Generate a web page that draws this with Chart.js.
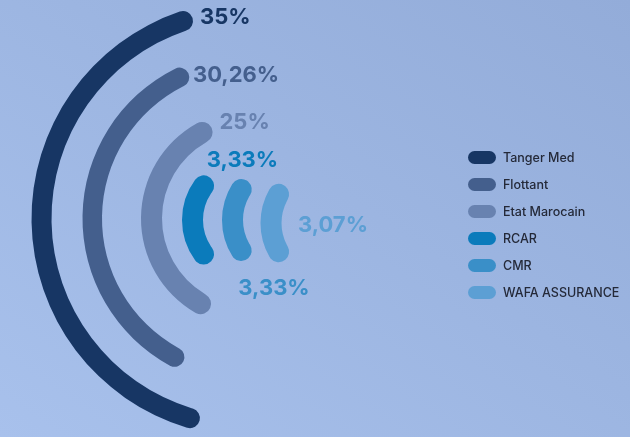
<!DOCTYPE html>
<html>
<head>
<meta charset="utf-8">
<script src="https://cdn.jsdelivr.net/npm/chart.js@4.4.1/dist/chart.umd.min.js"></script>
<style>
  html, body { margin: 0; padding: 0; }
  #stage {
    position: relative; width: 630px; height: 437px; overflow: hidden;
    background: linear-gradient(215deg, #93acd9 0%, #9cb5e1 45%, #a8c1ec 100%);
    font-family: Inter, "Noto Sans", sans-serif;
  }
  #stage canvas { position: absolute; left: 0; top: 0; }
  #legend { position: absolute; left: 468px; top: 143.5px; margin: 0; padding: 0; list-style: none; }
  #legend li { display: flex; align-items: center; height: 27px; font-size: 12.5px; font-weight: 500; color: #242938; }
  #legend li span { display: inline-block; width: 28px; height: 13px; border-radius: 7px; margin-right: 7px; }
</style>
</head>
<body>
<div id="stage"><ul id="legend"></ul></div>
<script>
// données du graphique
const categories = ['Tanger Med', 'Flottant', 'Etat Marocain', 'RCAR', 'CMR', 'WAFA ASSURANCE'];
const shares = [35, 30.26, 25, 3.33, 3.33, 3.07];

// style de chaque arc
const colors = ['#173664', '#445f8d', '#6882b0', '#0b7bbb', '#3a8fc8', '#5c9fd4'];
const centers = [[250, 218.5], [250, 218.5], [250, 218.5], [250.5, 220], [290.5, 220], [329, 223]];
const radii = [[218.5, 198.5], [167.5, 148], [109, 88], [68.5, 47.5], [68.5, 47.5], [68.5, 47.5]];
const sweepStart = [194, 205, 204, 223.6, 227.8, 230];
const sweepAngle = [150, 132, 133, 92.8, 84.4, 80];
const labelAnchor = ['end', 'end', 'end', 'end', 'start', 'mid'];
const labelAlign = ['left', 'left', 'left', 'center', 'center', 'left'];
const labelShift = [[7.5, -1], [4.6, 1.7], [8, -5], [32, -18], [26.5, 29.5], [27, 2]];

const W = 630, H = 437;
const stage = document.getElementById('stage');

// étiquette en pourcentage près de l'arc
const percentLabel = {
    id: 'percentLabel',
    afterDatasetsDraw(chart, args, opts) {
        const arc = chart.getDatasetMeta(0).data[0];
        const p = arc.getProps(['x', 'y', 'startAngle', 'endAngle', 'innerRadius', 'outerRadius'], true);
        let a = p.endAngle;
        if (opts.anchor === 'start') a = p.startAngle;
        if (opts.anchor === 'mid') a = (p.startAngle + p.endAngle) / 2;
        const r = (p.innerRadius + p.outerRadius) / 2;
        const ctx = chart.ctx;
        ctx.save();
        ctx.font = '700 22px Inter, sans-serif';
        ctx.fillStyle = opts.color;
        ctx.textAlign = opts.align;
        ctx.textBaseline = 'middle';
        ctx.fillText(opts.text, p.x + Math.cos(a) * r + opts.shift[0], p.y + Math.sin(a) * r + opts.shift[1]);
        ctx.restore();
    }
};

categories.forEach((name, i) => {
    const canvas = document.createElement('canvas');
    canvas.width = W;
    canvas.height = H;
    stage.insertBefore(canvas, document.getElementById('legend'));

    const [cx, cy] = centers[i];
    const [outer, inner] = radii[i];

    new Chart(canvas, {
        type: 'doughnut',
        data: {
            labels: [name],
            datasets: [
                {
                    data: [shares[i]],
                    backgroundColor: colors[i],
                    rotation: sweepStart[i],
                    circumference: sweepAngle[i],
                    borderRadius: 20,
                    weight: 1
                },
                // anneau invisible pour garder le cercle complet
                { data: [1], backgroundColor: 'rgba(0,0,0,0)', rotation: 0, circumference: 360, weight: 0 }
            ]
        },
        options: {
            responsive: false,
            animation: false,
            events: [],
            cutout: (inner / outer * 100) + '%',
            borderWidth: 0,
            hoverOffset: 0,
            layout: {
                padding: { left: cx - outer, right: W - cx - outer, top: cy - outer, bottom: H - cy - outer }
            },
            plugins: {
                legend: { display: false },
                tooltip: { enabled: false },
                percentLabel: {
                    text: String(shares[i]).replace('.', ',') + '%',
                    color: colors[i],
                    anchor: labelAnchor[i],
                    align: labelAlign[i],
                    shift: labelShift[i]
                }
            }
        },
        plugins: [percentLabel]
    });
});

// légende
const legend = document.getElementById('legend');
categories.forEach((name, i) => {
    const li = document.createElement('li');
    const sw = document.createElement('span');
    sw.style.background = colors[i];
    li.appendChild(sw);
    li.appendChild(document.createTextNode(name));
    legend.appendChild(li);
});
</script>
</body>
</html>
